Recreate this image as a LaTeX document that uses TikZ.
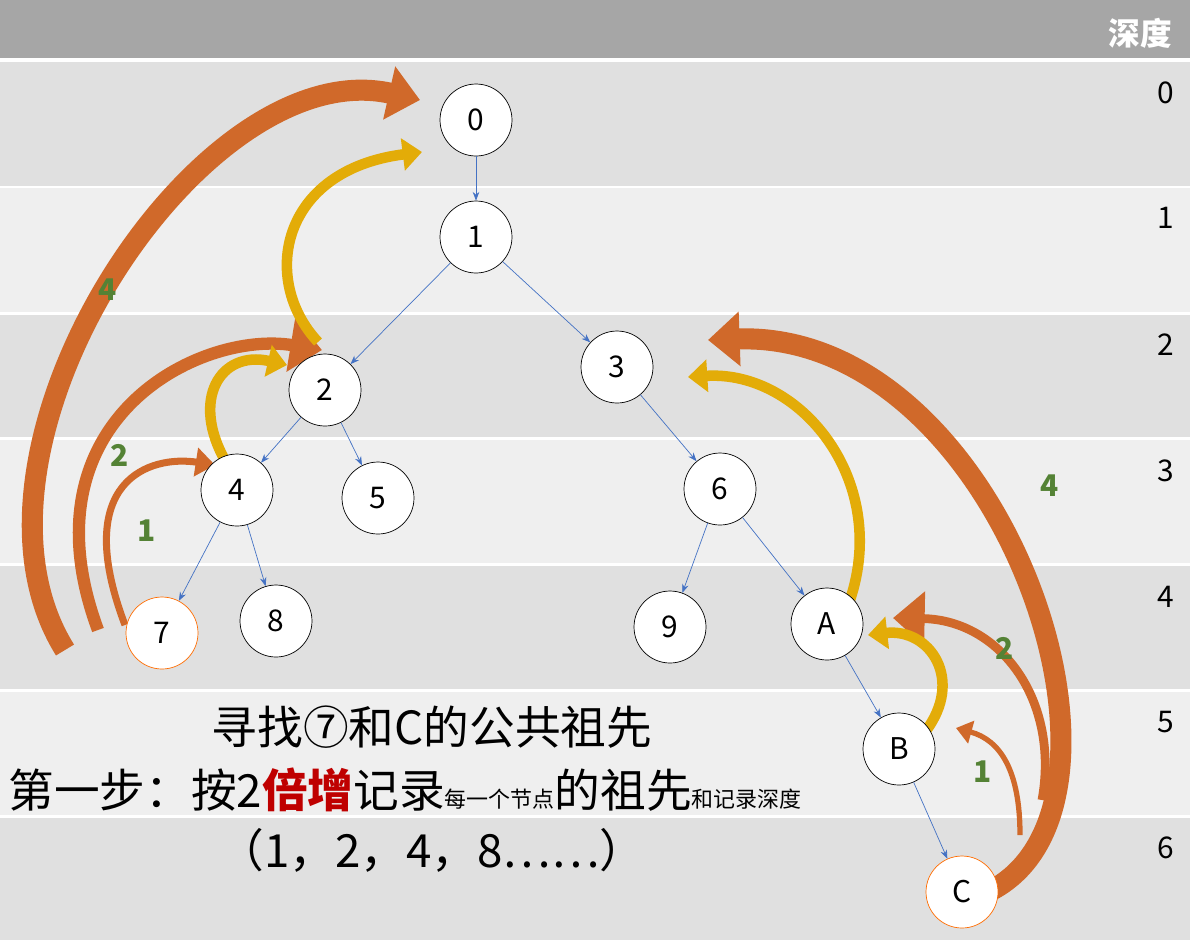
\documentclass[tikz,border=0pt]{standalone}
\usepackage{fontspec}
\setmainfont{Noto Sans CJK SC}
\usetikzlibrary{arrows.meta}
\definecolor{bandA}{HTML}{E0E0E0}
\definecolor{bandB}{HTML}{EFEFEF}
\definecolor{hdr}{HTML}{A6A6A6}
\definecolor{org}{HTML}{D0692A}
\definecolor{yel}{HTML}{E3AC08}
\definecolor{grn}{HTML}{548235}
\definecolor{edg}{HTML}{4472C4}
\begin{document}
\begin{tikzpicture}[x=0.02cm,y=-0.02cm,
  every node/.style={font=\fontsize{17}{20}\selectfont},
  vtx/.style={draw,circle,fill=white,minimum size=1.44cm,inner sep=0},
  hot/.style={vtx,draw=orange!85!red},
  tedge/.style={draw=edg,-{Stealth[length=5pt]},thin},
  big/.style={draw=org,line width=#1,-{Triangle[length=18pt,width=30pt]}},
  small/.style={draw=yel,line width=#1,-{Triangle[length=11pt,width=18pt]}},
  cnt/.style={text=grn,font=\bfseries\fontsize{17}{20}\selectfont}]
\useasboundingbox (0,0) rectangle (1190,944);
\fill[hdr] (0,0) rectangle (1190,58);
\foreach \t/\b/\c in {62/186/bandA,188/312/bandB,315/437/bandA,440/563/bandB,566/689/bandA,692/815/bandB,818/940/bandA}
  \fill[\c] (0,\t) rectangle (1190,\b);
\node[text=white,font=\bfseries\fontsize{18}{20}\selectfont] (hd) at (1140,33) {深度};
\foreach \d/\y in {0/93,1/218,2/345,3/471,4/597,5/722,6/848}
  \node (d\d) at (1166,\y) {\d};
% big arrows
\draw[big=12pt] (65,650) .. controls (-60,450) and (200,50) .. (420,100);
\draw[big=7pt] (98,630) .. controls (20,420) and (200,330) .. (322,350);
\draw[org,line width=4pt,-{Triangle[length=11pt,width=16pt]}] (125,625) .. controls (70,480) and (150,455) .. (215,465);
\draw[small=6pt] (226,462) .. controls (190,400) and (220,350) .. (287,365);
\draw[small=6pt] (318,342) .. controls (260,280) and (280,170) .. (422,152);
\draw[big=12pt] (992,890) .. controls (1160,800) and (1000,330) .. (708,340);
\draw[small=6pt] (850,600) .. controls (890,480) and (800,370) .. (688,377);
\draw[big=5pt] (1042,800) .. controls (1060,700) and (1000,620) .. (893,618);
\draw[small=6pt] (925,732) .. controls (965,680) and (930,628) .. (868,635);
\draw[org,line width=3pt,-{Triangle[length=9pt,width=13pt]}] (1020,835) .. controls (1020,770) and (1000,740) .. (956,728);
% tree
\node[vtx] (n0) at (476,120) {0};
\node[vtx] (n1) at (476,237) {1};
\node[vtx] (n2) at (325,390) {2};
\node[vtx] (n3) at (617,367) {3};
\node[vtx] (n4) at (237,490) {4};
\node[vtx] (n5) at (378,498) {5};
\node[vtx] (n6) at (720,489) {6};
\node[hot] (n7) at (162,633) {7};
\node[vtx] (n8) at (276,621) {8};
\node[vtx] (n9) at (670,627) {9};
\node[vtx] (nA) at (827,624) {A};
\node[vtx] (nB) at (899,749) {B};
\node[hot] (nC) at (962,892) {C};
\foreach \a/\b in {0/1,1/2,1/3,2/4,2/5,3/6,4/7,4/8,6/9,6/A,A/B,B/C}
  \draw[tedge] (n\a) -- (n\b);
\node[cnt] (c1) at (108,290) {4};
\node[cnt] (c2) at (120,455) {2};
\node[cnt] (c3) at (147,531) {1};
\node[cnt] (c4) at (1050,486) {4};
\node[cnt] (c5) at (1005,648) {2};
\node[cnt] (c6) at (983,772) {1};
% caption
\node[font=\fontsize{26}{30}\selectfont] (t1) at (432,727) {寻找⑦和C的公共祖先};
\node[anchor=west,inner sep=0,font=\fontsize{26}{30}\selectfont] (t2) at (8,790)
  {第一步：按2{\bfseries\color{red!75!black}倍增}记录{\fontsize{12.5}{14}\selectfont 每一个节点}的祖先{\fontsize{12.5}{14}\selectfont 和记录深度}};
\node[font=\fontsize{26}{30}\selectfont] (t3) at (432,850) {（1，2，4，8……）};
\end{tikzpicture}
\end{document}
